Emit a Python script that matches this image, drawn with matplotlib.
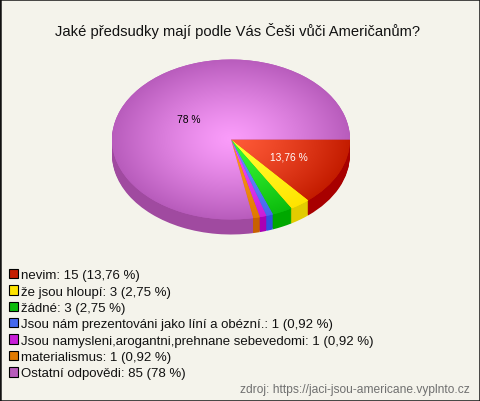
import numpy as np
import matplotlib
matplotlib.use("Agg")
import matplotlib.pyplot as plt
from matplotlib.colors import to_rgb
from matplotlib.patches import Patch, Rectangle

title = "Jaké předsudky mají podle Vás Češi vůči Američanům?"
source = "zdroj: https://jaci-jsou-americane.vyplnto.cz"
categories = ["nevim", "že jsou hloupí", "žádné", "Jsou nám prezentováni jako líní a obézní.",
              "Jsou namysleni,arogantni,prehnane sebevedomi", "materialismus", "Ostatní odpovědi"]
counts = [15, 3, 3, 1, 1, 1, 85]
percents = ["13,76", "2,75", "2,75", "0,92", "0,92", "0,92", "78"]

edge_colors = ["#c41c00", "#ffe400", "#0cbc0c", "#4468ee", "#c81ed8", "#e07a00", "#b85cbc"]
centre_colors = ["#ff5a38", "#ffff30", "#38f838", "#6a90ff", "#f050ff", "#ff9a20", "#fa9cfa"]
side_colors = ["#a80000", "#e2cc00", "#00a800", "#3050e0", "#aa00b4", "#c86000", "#a04aa0"]

plt.rcParams["font.family"] = ["Liberation Sans", "DejaVu Sans"]
W, H = 480, 402
BG = "#f4f3eb"
fig = plt.figure(figsize=(W / 100, H / 100), dpi=100, facecolor=BG)

# pie axes: pixel box of the ellipse and its rim
cx, cy, rx, ry, depth = 231, 140.5, 119, 80, 15
left, right, top, bottom = cx - rx - 2, cx + rx + 2, cy - ry - 2, cy + ry + depth + 2
ax = fig.add_axes([left / W, 1 - bottom / H, (right - left) / W, (bottom - top) / H])
ax.axis("off")

# rim: the same pie stacked downwards
for d in np.arange(depth, 0, -1.0):
    ax.pie(counts, startangle=0, counterclock=False, colors=side_colors, center=(0, -d / ry),
           wedgeprops={"linewidth": 0.3})

wedges, _ = ax.pie(counts, startangle=0, counterclock=False, colors=edge_colors, center=(0, 0))

# radial gradient on each top wedge
n = 400
xx, yy = np.meshgrid(np.linspace(-1.02, 1.02, n), np.linspace(-1.02, 1.02, n))
rr = np.clip(np.hypot(xx, yy), 0, 1)[..., None] ** 1.25
for wedge, c0, c1 in zip(wedges, centre_colors, edge_colors):
    img = np.array(to_rgb(c0)) * (1 - rr) + np.array(to_rgb(c1)) * rr
    im = ax.imshow(img, extent=(-1.02, 1.02, -1.02, 1.02), origin="lower", aspect="auto",
                   interpolation="bilinear", zorder=3)
    im.set_clip_path(wedge)

ax.set_aspect("auto")
ax.set_xlim(-(cx - left) / rx, (right - cx) / rx)
ax.set_ylim(-(bottom - cy) / ry, (cy - top) / ry)

# percentage labels on the two largest slices
ax.text((289 - cx) / rx, (cy - 158) / ry, f"{percents[0]} %", color="white",
        fontsize=7.4, ha="center", va="center", zorder=5)
ax.text((189 - cx) / rx, (cy - 120) / ry, f"{percents[6]} %", color="black",
        fontsize=7.4, ha="center", va="center", zorder=5)

fig.text(237.5 / W, 1 - 31 / H, title, ha="center", va="center", fontsize=10.6, color="#111111")
fig.text(470 / W, 1 - 390 / H, source, ha="right", va="center", fontsize=8.65, color="#707070")

handles = [Patch(facecolor=c, edgecolor="black", linewidth=0.8) for c in edge_colors]
labels = [f"{c}: {v} ({p} %)" for c, v, p in zip(categories, counts, percents)]
fig.legend(handles, labels, loc="upper left", bbox_to_anchor=(9 / W, 1 - 270 / H), frameon=False,
           fontsize=9.55, labelcolor="#111111", handlelength=0.68, handleheight=0.72,
           handletextpad=0.2, labelspacing=0.3, borderpad=0, borderaxespad=0)

# outer frame
fig.add_artist(Rectangle((0, 0), 1, 1, transform=fig.transFigure, fill=False, edgecolor="#111111", linewidth=1.8))
fig.savefig("out.png", dpi=100, facecolor=BG)
